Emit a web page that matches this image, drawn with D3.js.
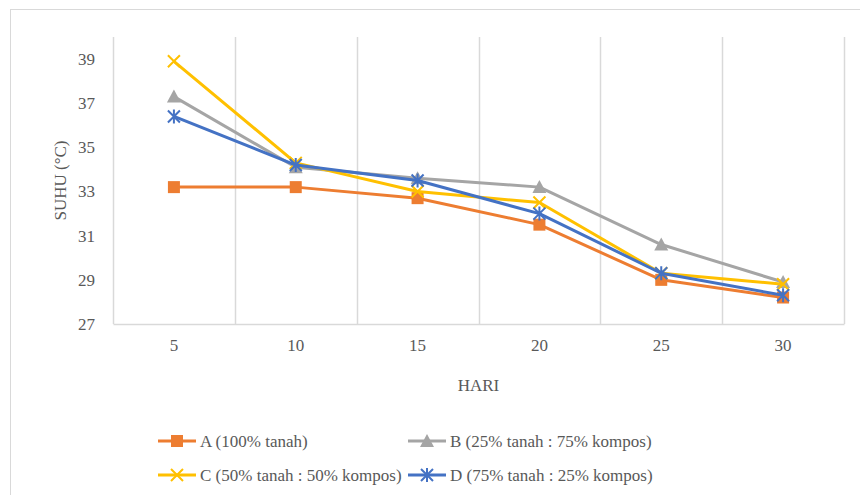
<!DOCTYPE html>
<html>
<head>
<meta charset="utf-8">
<script src="https://cdn.jsdelivr.net/npm/d3@7"></script>
<style>
  html, body { margin: 0; padding: 0; background: #fff; }
  svg { display: block; }
  svg text { font-family: "Liberation Serif", serif; }
</style>
</head>
<body>
<svg id="chart" width="860" height="495" font-family="Liberation Serif"></svg>
<script>
// Days of observation
const days = ["5", "10", "15", "20", "25", "30"];
// Temperature (°C) per treatment
const seriesA = [33.2, 33.2, 32.7, 31.5, 29.0, 28.2];
const seriesB = [37.3, 34.1, 33.6, 33.2, 30.6, 28.9];
const seriesC = [38.9, 34.3, 33.0, 32.5, 29.3, 28.8];
const seriesD = [36.4, 34.2, 33.5, 32.0, 29.3, 28.3];
const seriesNames = ["A (100% tanah)", "B (25% tanah : 75% kompos)", "C (50% tanah : 50% kompos)", "D (75% tanah : 25% kompos)"];
const yTicks = [27, 29, 31, 33, 35, 37, 39];

const FONT = "Liberation Serif";
const FONT_SIZE = 17;
const TEXT_COLOR = "#595959";

const series = [
  { name: seriesNames[0], values: seriesA, color: "#ED7D31", marker: "square" },
  { name: seriesNames[1], values: seriesB, color: "#A5A5A5", marker: "triangle" },
  { name: seriesNames[2], values: seriesC, color: "#FFC000", marker: "x" },
  { name: seriesNames[3], values: seriesD, color: "#4472C4", marker: "star" }
];

const svg = d3.select("#chart");
const plot = { left: 113, right: 844, top: 37, bottom: 324 };

function styleText(sel) {
  sel.attr("font-family", FONT).attr("font-size", FONT_SIZE)
    .style("font-family", FONT)
    .attr("fill", TEXT_COLOR);
}

// chart frame
svg.append("rect")
  .attr("x", 10.5).attr("y", 9.5)
  .attr("width", 870).attr("height", 500)
  .attr("fill", "none").attr("stroke", "#d9d9d9").attr("stroke-width", 1);

const x = d3.scaleBand().domain(days).range([plot.left, plot.right]).padding(0);
const y = d3.scaleLinear().domain([27, 40]).range([plot.bottom, plot.top]);

// vertical gridlines at category boundaries
const bounds = days.map(d => x(d)).concat([plot.right]);
svg.append("g").selectAll("line").data(bounds).join("line")
  .attr("x1", d => Math.round(d) + 0.5).attr("x2", d => Math.round(d) + 0.5)
  .attr("y1", plot.top).attr("y2", plot.bottom)
  .attr("stroke", "#d9d9d9").attr("stroke-width", 1.5);

// category axis
const xAxis = svg.append("g")
  .attr("transform", `translate(0,${plot.bottom})`)
  .call(d3.axisBottom(x).tickSize(0).tickPadding(15))
  .attr("font-family", FONT).attr("font-size", FONT_SIZE);
xAxis.select(".domain").attr("stroke", "#d9d9d9").attr("stroke-width", 1.5);
styleText(xAxis.selectAll("text"));

// value axis (labels only)
const yAxis = svg.append("g")
  .attr("transform", `translate(${plot.left},0)`)
  .call(d3.axisLeft(y).tickValues(yTicks).tickSize(0).tickPadding(18))
  .attr("font-family", FONT).attr("font-size", FONT_SIZE);
yAxis.select(".domain").remove();
styleText(yAxis.selectAll("text"));

// axis titles
svg.append("text")
  .attr("transform", `translate(66,${(plot.top + plot.bottom) / 2}) rotate(-90)`)
  .attr("text-anchor", "middle")
  .text("SUHU (°C)")
  .call(styleText);
svg.append("text")
  .attr("x", (plot.left + plot.right) / 2).attr("y", 391)
  .attr("text-anchor", "middle")
  .text("HARI")
  .call(styleText);

function drawMarker(g, type, color, cx, cy) {
  if (type === "square") {
    g.append("rect").attr("x", cx - 6).attr("y", cy - 6).attr("width", 12).attr("height", 12)
      .attr("fill", color);
  } else if (type === "triangle") {
    g.append("path").attr("d", `M${cx},${cy - 7}L${cx + 7},${cy + 6}L${cx - 7},${cy + 6}Z`)
      .attr("fill", color);
  } else if (type === "x") {
    g.append("path").attr("d", `M${cx - 6},${cy - 6}L${cx + 6},${cy + 6}M${cx + 6},${cy - 6}L${cx - 6},${cy + 6}`)
      .attr("stroke", color).attr("stroke-width", 2);
  } else if (type === "star") {
    g.append("path").attr("d", `M${cx - 6},${cy - 6}L${cx + 6},${cy + 6}M${cx + 6},${cy - 6}L${cx - 6},${cy + 6}M${cx},${cy - 7}L${cx},${cy + 7}`)
      .attr("stroke", color).attr("stroke-width", 2);
  }
}

const line = d3.line()
  .x((d, i) => x(days[i]) + x.bandwidth() / 2)
  .y(d => y(d));

series.forEach(s => {
  const g = svg.append("g");
  g.append("path").datum(s.values)
    .attr("d", line).attr("fill", "none")
    .attr("stroke", s.color).attr("stroke-width", 3).attr("stroke-linejoin", "round");
  s.values.forEach((v, i) => drawMarker(g, s.marker, s.color, x(days[i]) + x.bandwidth() / 2, y(v)));
});

// legend
const legendPos = [
  { lx: 158, ty: 441 }, { lx: 408, ty: 441 },
  { lx: 158, ty: 475 }, { lx: 408, ty: 475 }
];
series.forEach((s, i) => {
  const p = legendPos[i];
  const g = svg.append("g");
  g.append("line").attr("x1", p.lx).attr("x2", p.lx + 38).attr("y1", p.ty).attr("y2", p.ty)
    .attr("stroke", s.color).attr("stroke-width", 3);
  drawMarker(g, s.marker, s.color, p.lx + 19, p.ty);
  g.append("text").attr("x", p.lx + 42).attr("y", p.ty + 6)
    .text(s.name)
    .call(styleText);
});
</script>
</body>
</html>
